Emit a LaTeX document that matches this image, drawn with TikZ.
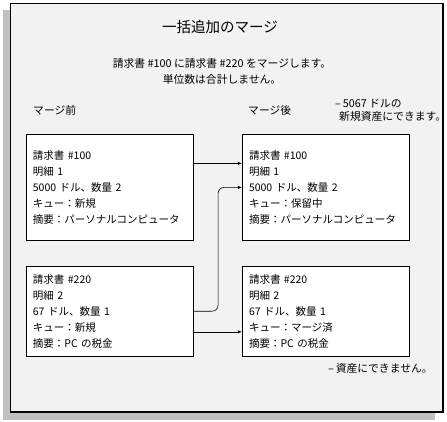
\documentclass[tikz,border=0pt]{standalone}
\usepackage{fontspec}
\setmainfont{Noto Sans CJK JP}
\usepackage{tikz}
\usetikzlibrary{positioning, arrows.meta, calc}
\definecolor{pane}{HTML}{F2F2F2}
\definecolor{dropgray}{HTML}{C0C0C0}
\begin{document}
\begin{tikzpicture}[x=1pt,y=-1pt,inv/.style={draw, fill=white, line width=0.8pt, minimum width=167.6pt, text width=154pt, inner xsep=6.3pt, align=left, font=\fontsize{10.5}{16}\selectfont},hdr/.style={font=\fontsize{10.8}{16}\selectfont, inner sep=0pt},conn/.style={line width=0.6pt, -{Latex[length=4pt, width=3.5pt]}}]
\useasboundingbox (0,0) rectangle (447,422);
\fill[dropgray] (3,10) rectangle (435,419.5);
\draw[fill=pane, line width=1.2pt] (10.7,3.3) rectangle (443,412);
\node[font=\fontsize{14.5}{16}\selectfont] (title) at (220,27) {一括追加のマージ};
\node[hdr, align=center] (sub) at (222,71) {請求書 \#100 に請求書 \#220 をマージします。\\単位数は合計しません。};
\node[hdr, anchor=west] (before) at (33,110) {マージ前};
\node[hdr, anchor=west] (after) at (248,110) {マージ後};
\node[hdr, anchor=north west, align=left, font=\fontsize{10.8}{13}\selectfont] (newnote) at (335,98.5) {–\,5067 ドルの\\\hspace{4pt}新規資産にできます。};
\node[inv, minimum height=106pt, anchor=north west] (l100) at (25.7,134) {請求書 \#100\\明細 1\\5000 ドル、数量 2\\キュー：新規\\摘要：パーソナルコンピュータ};
\node[inv, minimum height=106pt, right=47.7pt of l100] (b100) {請求書 \#100\\明細 1\\5000 ドル、数量 2\\キュー：保留中\\摘要：パーソナルコンピュータ};
\node[inv, minimum height=90pt, below=25pt of l100] (l220) {請求書 \#220\\明細 2\\67 ドル、数量 1\\キュー：新規\\摘要：PC の税金};
\node[inv, minimum height=90pt, right=47.7pt of l220] (b220) {請求書 \#220\\明細 2\\67 ドル、数量 1\\キュー：マージ済\\摘要：PC の税金};
\node[hdr, anchor=west] (nonote) at (328,368) {–\,資産にできません。};
\draw[conn] ([yshift=24pt]l100.east) -- ([yshift=24pt]b100.west);
\draw[conn, rounded corners=6pt] (l220.east) -- ++(24,0) |- (b100.west);
\draw[conn] ([yshift=-20.7pt]l220.east) -- ([yshift=-20.7pt]b220.west);
\end{tikzpicture}
\end{document}
